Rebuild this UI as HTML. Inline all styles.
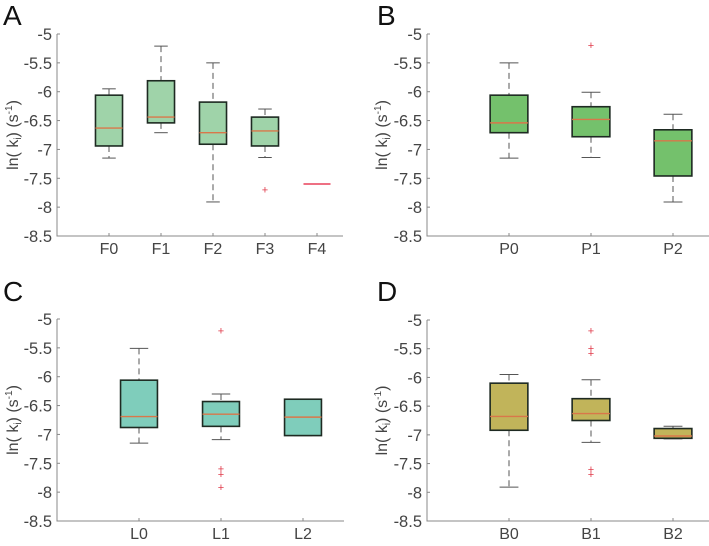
<!DOCTYPE html>
<html><head><meta charset="utf-8"><style>
html,body{margin:0;padding:0;background:#fff;width:709px;height:546px;overflow:hidden}
svg{display:block;font-family:"Liberation Sans",sans-serif}
</style></head><body>
<svg id="fig" width="709" height="546" viewBox="0 0 709 546"></svg>
<script>
// Panel A data: [whiskerLow, q1, median, q3, whiskerHigh]
const catsA = ["F0","F1","F2","F3","F4"];
const statsA = [[-7.15,-6.94,-6.63,-6.06,-5.95],[-6.71,-6.54,-6.44,-5.81,-5.21],[-7.91,-6.91,-6.71,-6.18,-5.5],[-7.14,-6.94,-6.68,-6.44,-6.3],[-7.6,-7.6,-7.6,-7.6,-7.6]];
const outA = [[],[],[],[-7.7],[]];
// Panel B
const catsB = ["P0","P1","P2"];
const statsB = [[-7.15,-6.71,-6.54,-6.06,-5.5],[-7.14,-6.78,-6.48,-6.26,-6.01],[-7.91,-7.46,-6.85,-6.66,-6.39]];
const outB = [[],[-5.2],[]];
// Panel C
const catsC = ["L0","L1","L2"];
const statsC = [[-7.15,-6.88,-6.69,-6.06,-5.51],[-7.09,-6.86,-6.65,-6.43,-6.3],[-7.02,-7.02,-6.70,-6.39,-6.39]];
const outC = [[],[-5.21,-7.6,-7.69,-7.92],[]];
// Panel D
const catsD = ["B0","B1","B2"];
const statsD = [[-7.91,-6.92,-6.68,-6.1,-5.95],[-7.13,-6.75,-6.63,-6.37,-6.04],[-7.07,-7.06,-7.02,-6.89,-6.85]];
const outD = [[],[-5.19,-5.5,-5.58,-7.6,-7.69],[]];
const yTicks = [-5,-5.5,-6,-6.5,-7,-7.5,-8,-8.5];
const yTickLabels = ["-5","-5.5","-6","-6.5","-7","-7.5","-8","-8.5"];

const NS="http://www.w3.org/2000/svg";
const svg=document.getElementById('fig');
function mk(tag,attrs,parent){const e=document.createElementNS(NS,tag);for(const k in attrs)e.setAttribute(k,attrs[k]);(parent||svg).appendChild(e);return e;}

const panels=[
 {letter:"A",lx:3,ly:25,x0:57,x1:343,yTop:34,yBot:236,xmax:5.5,cats:catsA,stats:statsA,outs:outA,color:"#9fd3a9",bw:0.52,ylx:12,name:"panel-a"},
 {letter:"B",lx:377,ly:25,x0:427,x1:717,yTop:34,yBot:236,xmax:3.5,cats:catsB,stats:statsB,outs:outB,color:"#74c16c",bw:0.46,ylx:381,name:"panel-b"},
 {letter:"C",lx:3,ly:301,x0:57,x1:344,yTop:319,yBot:521,xmax:3.5,cats:catsC,stats:statsC,outs:outC,color:"#7fcdbb",bw:0.45,ylx:12,name:"panel-c"},
 {letter:"D",lx:377,ly:301,x0:427,x1:714,yTop:320,yBot:521,xmax:3.5,cats:catsD,stats:statsD,outs:outD,color:"#c1b45a",bw:0.46,ylx:381,name:"panel-d"}
];

panels.forEach(p=>{
 const g=mk('g',{});
 
 
 const scale=p.xmax===5.5?52:82;
 const xs=v=>p.x0+v*scale;
 const ys=v=>p.yTop+(-5-v)*(p.yBot-p.yTop)/3.5;
 const t=mk('text',{x:p.lx,y:p.ly,'font-size':28,fill:'#111'},g);t.textContent=p.letter;
 
 const ax=mk('path',{d:`M${p.x0},${p.yTop}V${p.yBot}H${p.x1}`,stroke:'#888',fill:'none','stroke-width':1},g);
 
 yTicks.forEach((v,i)=>{
  const y=ys(v);
  mk('line',{x1:p.x0,x2:p.x0+3,y1:y,y2:y,stroke:'#888'},g);
  const tl=mk('text',{x:p.x0-5,y:y+6,'font-size':16.5,fill:'#444','text-anchor':'end'},g);
  tl.textContent=yTickLabels[i];
  
 });
 const yl=mk('text',{transform:`translate(${p.ylx+6},${(p.yTop+p.yBot)/2}) rotate(-90)`,'font-size':16,fill:'#444','text-anchor':'middle'},g);
 yl.innerHTML='ln( k<tspan font-size="10" dy="3">i</tspan><tspan dy="-3">) (s</tspan><tspan font-size="10" dy="-6">-1</tspan><tspan dy="6">)</tspan>';
 
 p.cats.forEach((c,i)=>{
  const cx=xs(i+1);
  mk('line',{x1:cx,x2:cx,y1:p.yBot,y2:p.yBot-3,stroke:'#888'},g);
  const xl=mk('text',{x:cx,y:p.yBot+18,'font-size':16,fill:'#444','text-anchor':'middle'},g);
  xl.textContent=c;
  
  const s=p.stats[i];
  const hw=p.bw*scale/2, cw=hw/2;
  const bg=mk('g',{},g);
  
  
  const degenerate = s[0]===s[4];
  if(!degenerate){
   mk('line',{x1:cx,x2:cx,y1:ys(s[4]),y2:ys(s[3]),stroke:'#555','stroke-dasharray':'6,4'},bg);
   mk('line',{x1:cx,x2:cx,y1:ys(s[1]),y2:ys(s[0]),stroke:'#555','stroke-dasharray':'6,4'},bg);
   mk('line',{x1:cx-cw,x2:cx+cw,y1:ys(s[4]),y2:ys(s[4]),stroke:'#555'},bg);
   mk('line',{x1:cx-cw,x2:cx+cw,y1:ys(s[0]),y2:ys(s[0]),stroke:'#555'},bg);
   mk('rect',{x:cx-hw,y:ys(s[3]),width:2*hw,height:ys(s[1])-ys(s[3]),fill:p.color,stroke:'#1e2a22','stroke-width':1.6},bg);
  }
  mk('line',{x1:cx-hw,x2:cx+hw,y1:ys(s[2]),y2:ys(s[2]),stroke:degenerate?'#e8405a':'#d9774a','stroke-width':degenerate?1.5:1.4},bg);
  p.outs[i].forEach(v=>{
   const o=mk('text',{x:cx,y:ys(v)+3.5,'font-size':11,fill:'#e03a4a','text-anchor':'middle'},bg);
   o.textContent='+';
   
  });
 });
});
</script>
</body></html>
